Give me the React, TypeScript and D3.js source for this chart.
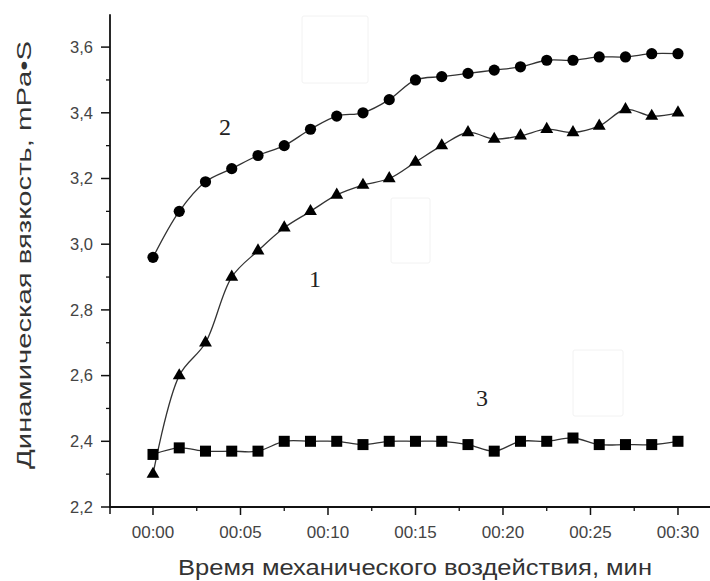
import React from "react";
import * as d3 from "d3";

// time, minutes (one reading every 1.5 min)
const times = d3.range(21).map((i) => i * 1.5);

const series1 = [2.30, 2.60, 2.70, 2.90, 2.98, 3.05, 3.10, 3.15, 3.18, 3.20, 3.25, 3.30, 3.34, 3.32, 3.33, 3.35, 3.34, 3.36, 3.41, 3.39, 3.40];
const series2 = [2.96, 3.10, 3.19, 3.23, 3.27, 3.30, 3.35, 3.39, 3.40, 3.44, 3.50, 3.51, 3.52, 3.53, 3.54, 3.56, 3.56, 3.57, 3.57, 3.58, 3.58];
const series3 = [2.36, 2.38, 2.37, 2.37, 2.37, 2.40, 2.40, 2.40, 2.39, 2.40, 2.40, 2.40, 2.39, 2.37, 2.40, 2.40, 2.41, 2.39, 2.39, 2.39, 2.40];

const xMajor = [0, 5, 10, 15, 20, 25, 30];
const xMinor = [2.5, 7.5, 12.5, 17.5, 22.5, 27.5];
const yMajor = [2.2, 2.4, 2.6, 2.8, 3.0, 3.2, 3.4, 3.6];
const yMinor = [2.3, 2.5, 2.7, 2.9, 3.1, 3.3, 3.5];

const W = 710;
const H = 581;

const x = d3.scaleLinear().domain([-2.457, 31.83]).range([110, 710]);
const y = d3.scaleLinear().domain([2.2, 3.7]).range([507, 14.25]);

const fmtTime = (m: number) => `00:${String(m).padStart(2, "0")}`;
const fmtY = (v: number) => v.toFixed(1).replace(".", ",");

const line = d3
  .line<number>()
  .x((_, i) => x(times[i]))
  .y((d) => y(d))
  .curve(d3.curveCatmullRom.alpha(0.5));

const tri = d3.symbol(d3.symbolTriangle, 72)() || "";

export default function App() {
  const sans = "'Liberation Sans', Arial, sans-serif";
  const ink = "#111";
  return (
    <div style={{ position: "absolute", left: 0, top: 0 }}>
      <svg width={W} height={H} style={{ display: "block", background: "#fff" }}>
        {/* faint boxes left over in the source image */}
        <g fill="none" stroke="#f2f2f2" strokeWidth={1}>
          <rect x={302} y={16} width={66} height={67} rx={2} />
          <rect x={391} y={198} width={39} height={65} rx={2} />
          <rect x={573} y={350} width={50} height={66} rx={2} />
        </g>

        {/* Y axis */}
        <line x1={110} x2={110} y1={y(3.7)} y2={508} stroke={ink} strokeWidth={1.8} />
        {yMajor.map((v) => (
          <g key={v}>
            <line x1={101} x2={110} y1={y(v)} y2={y(v)} stroke={ink} strokeWidth={1.5} />
            <text x={93} y={y(v)} dy="0.35em" textAnchor="end" fontSize={16.5} fontFamily={sans} fill="#444">
              {fmtY(v)}
            </text>
          </g>
        ))}
        {yMinor.map((v) => (
          <line key={v} x1={106} x2={110} y1={y(v)} y2={y(v)} stroke={ink} strokeWidth={1.3} />
        ))}

        {/* X axis */}
        <line x1={109} x2={W} y1={507} y2={507} stroke={ink} strokeWidth={1.8} />
        <line x1={110} x2={110} y1={507} y2={514} stroke={ink} strokeWidth={1.5} />
        {xMajor.map((v) => (
          <g key={v}>
            <line x1={x(v)} x2={x(v)} y1={507} y2={515} stroke={ink} strokeWidth={1.5} />
            <text x={x(v)} y={532} dy="0.35em" textAnchor="middle" fontSize={17} fontFamily={sans} fill="#444">
              {fmtTime(v)}
            </text>
          </g>
        ))}
        {xMinor.map((v) => (
          <line key={v} x1={x(v)} x2={x(v)} y1={507} y2={511} stroke={ink} strokeWidth={1.3} />
        ))}

        {/* Lines */}
        {[series1, series2, series3].map((s, i) => (
          <path key={i} d={line(s) || ""} fill="none" stroke="#333" strokeWidth={1.3} />
        ))}

        {/* Markers */}
        {series2.map((v, i) => (
          <circle key={"c" + i} cx={x(times[i])} cy={y(v)} r={5.6} fill="#000" />
        ))}
        {series1.map((v, i) => (
          <path key={"t" + i} d={tri} transform={`translate(${x(times[i])},${y(v)})`} fill="#000" />
        ))}
        {series3.map((v, i) => (
          <rect key={"s" + i} x={x(times[i]) - 5.5} y={y(v) - 5.5} width={11} height={11} fill="#000" />
        ))}

        {/* Curve numbers */}
        <g fontFamily="'Liberation Serif', 'Times New Roman', serif" fontSize={24} fill="#222" textAnchor="middle">
          <text x={225} y={135}>2</text>
          <text x={315} y={287}>1</text>
          <text x={482} y={406}>3</text>
        </g>

        {/* Axis titles */}
        <text
          transform="translate(31,255) rotate(-90)"
          textAnchor="middle"
          fontSize={20}
          fontFamily={sans}
          fill="#333"
          textLength={428}
          lengthAdjust="spacingAndGlyphs"
        >
          Динамическая вязкость, mPa•S
        </text>
        <text
          x={415}
          y={575}
          textAnchor="middle"
          fontSize={22}
          fontFamily={sans}
          fill="#333"
          textLength={474}
          lengthAdjust="spacingAndGlyphs"
        >
          Время механического воздействия, мин
        </text>
      </svg>
    </div>
  );
}
